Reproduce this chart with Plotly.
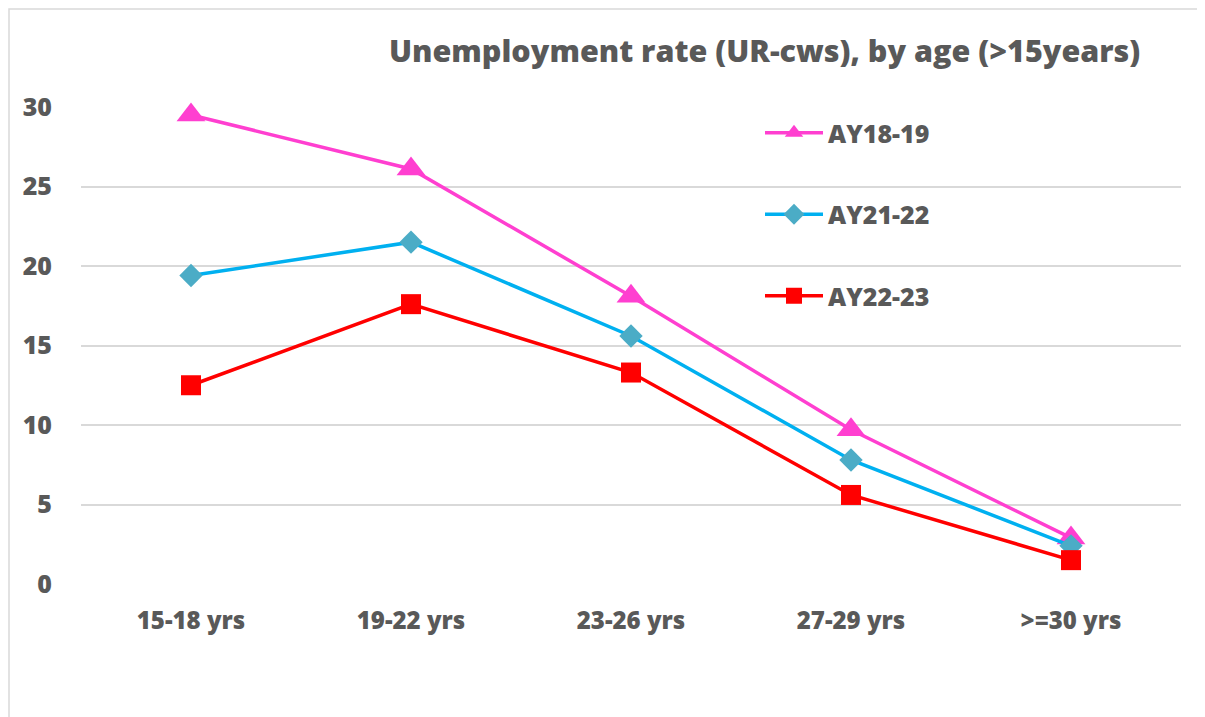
import plotly.graph_objects as go

categories = ["15-18 yrs", "19-22 yrs", "23-26 yrs", "27-29 yrs", ">=30 yrs"]
ay18_19 = [29.5, 26.1, 18.1, 9.7, 2.9]
ay21_22 = [19.4, 21.5, 15.6, 7.8, 2.4]
ay22_23 = [12.5, 17.6, 13.3, 5.6, 1.5]
y_ticks = [0, 5, 10, 15, 20, 25, 30]

OFF = 8  # page body offset
W, H = 1205 - OFF, 717 - OFF
L = 81 - OFF
T = 107 - OFF
R = W - (1181 - OFF)
B = H - (584 - OFF)
pw = W - L - R
ph = H - T - B


def px(xr):
    return (xr - 81) / pw


def py(yr):
    return (584 - yr) / ph


FONT = "Open Sans"
GRAY = "#595959"

fig = go.Figure()
fig.add_trace(go.Scatter(
    x=categories, y=ay18_19, name="AY18-19", mode="lines+markers",
    line=dict(color="#FF3FD0", width=3.5),
    marker=dict(symbol="triangle-up", size=25, color="#FF3FD0"),
    cliponaxis=False, legendgroup="a"))
fig.add_trace(go.Scatter(
    x=categories, y=ay21_22, name="AY21-22", mode="lines+markers",
    line=dict(color="#00B0F0", width=3.5),
    marker=dict(symbol="diamond", size=18, color="#4BACC6"),
    cliponaxis=False, legendgroup="b"))
fig.add_trace(go.Scatter(
    x=categories, y=ay22_23, name="AY22-23", mode="lines+markers",
    line=dict(color="#FF0000", width=3.5),
    marker=dict(symbol="square", size=20, color="#FF0000"),
    cliponaxis=False, legendgroup="c"))

fig.update_layout(
    width=W, height=H,
    margin=dict(l=L, r=R, t=T, b=B),
    paper_bgcolor="white", plot_bgcolor="white",
    font=dict(family=FONT, color=GRAY),
    showlegend=True,
    legend=dict(x=px(760), y=py(110), xanchor="left", yanchor="top",
                font=dict(size=25, color=GRAY, family=FONT, weight=800),
                tracegroupgap=46, itemwidth=58, bgcolor="rgba(0,0,0,0)"),
    xaxis=dict(type="category", range=[-0.5, 4.5], showgrid=False, zeroline=False,
               showline=False, ticks="", ticklabelstandoff=20,
               tickfont=dict(size=24, color=GRAY, family=FONT, weight=800)),
    yaxis=dict(range=[0, 30], tickvals=y_ticks, showgrid=True, gridcolor="#D9D9D9",
               gridwidth=1.5, zeroline=False, showline=False, ticks="",
               ticklabelstandoff=28,
               tickfont=dict(size=25, color=GRAY, family=FONT, weight=800)),
)

fig.add_annotation(
    text="Unemployment rate (UR-cws), by age (>15years)",
    xref="paper", yref="paper", x=px(1142), y=py(50),
    xanchor="right", yanchor="middle", showarrow=False,
    font=dict(size=30.5, color=GRAY, family=FONT, weight=800))

fig.add_shape(type="rect", xref="paper", yref="paper",
              x0=px(9), x1=px(1200),
              y0=py(730), y1=py(9),
              line=dict(color="#D9D9D9", width=1.5), fillcolor="rgba(0,0,0,0)",
              layer="below")

fig.write_html("out.html")
